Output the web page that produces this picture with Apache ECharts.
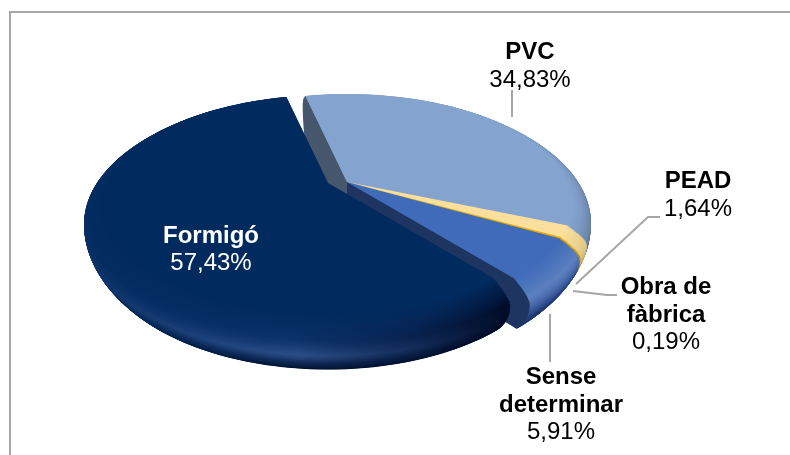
<!DOCTYPE html>
<html>
<head>
<meta charset="utf-8">
<style>
    html, body { margin: 0; padding: 0; background: #fff; }
    #myChart { width: 790px; height: 455px; }
</style>
<script src="https://cdn.jsdelivr.net/npm/echarts@6/dist/echarts.min.js"></script>
</head>
<body>
<div id="myChart"></div>
<script>
    // clockwise from the PVC slice
    const categories = ['PVC', 'PEAD', 'Obra de fàbrica', 'Sense determinar', 'Formigó'];
    const shares = [34.83, 1.64, 0.19, 5.91, 57.43];

    const startAngle = -13;
    const total = shares.reduce((a, b) => a + b, 0);

    // fake perspective: far half of the pie is flatter than the near half
    const view = { cx: 347, cy: 182, rx: 220.6, ry: 105.6, k: 0.2, depth: 41.5, layers: 50 };

    // colour down the rounded edge, t=0 top face, t=1 bottom
    const shading = [
        { top: '#84a4cf', edge: [[0, '#84a4cf'], [0.12, '#7c9ac4'], [0.3, '#6a82a6'], [0.6, '#4e5e78'], [1, '#3c4a60']], wall: '#46566c', wallDeep: 1.35 },
        { top: '#fbdf9c', edge: [[0, '#fbdf9c'], [0.35, '#dcc384'], [0.7, '#9a8c58'], [1, '#6a6040']] },
        { top: '#e9a900', edge: [[0, '#e9a900'], [1, '#8a6a10']] },
        { top: '#3f6bb8', edge: [[0, '#3f6bb8'], [0.25, '#5c80c0'], [0.5, '#3a5a9c'], [0.72, '#1f3a72'], [1, '#1c3466']], wall: '#1d3560', wallDeep: 1 },
        { top: '#012a5e', edge: [[0, '#012a5e'], [0.25, '#0b3169'], [0.55, '#2c4f88'], [0.75, '#0e2a58'], [1, '#00102c']], fade: true, shift: [-19, 1] }
    ];

    function hex2rgb(c) {
        return [1, 3, 5].map(i => parseInt(c.substr(i, 2), 16));
    }
    function mix(c1, c2, f) {
        let a = hex2rgb(c1), b = hex2rgb(c2);
        return 'rgb(' + a.map((v, i) => Math.round(v + (b[i] - v) * f)).join(',') + ')';
    }
    function rgb2hex(c) {
        return '#' + c.match(/\d+/g).map(v => (+v).toString(16).padStart(2, '0')).join('');
    }
    function rampColor(stops, t) {
        for (let i = 1; i < stops.length; i++) {
            if (t <= stops[i][0]) {
                let f = (t - stops[i - 1][0]) / (stops[i][0] - stops[i - 1][0]);
                return mix(stops[i - 1][1], stops[i][1], f);
            }
        }
        return mix(stops[stops.length - 1][1], stops[stops.length - 1][1], 0);
    }

    function edgeScale(t) {
        if (t < 0.35) return 1 + 0.08 * Math.sin(t / 0.35 * Math.PI / 2);
        return 1.08 - 0.065 * Math.pow((t - 0.35) / 0.65, 2);
    }
    function project(deg, s, z, shift) {
        let a = deg * Math.PI / 180;
        let X = s * Math.sin(a), Y = -s * Math.cos(a);
        let w = 1 - view.k * Y;
        return [
            view.cx + shift[0] + view.rx * X / w,
            view.cy + shift[1] + view.ry * Y / w + z * view.depth / w
        ];
    }
    function sectorPoints(a0, a1, s, z, shift) {
        let pts = [project(0, 0, z, shift)];
        let n = Math.max(2, Math.ceil((a1 - a0) / 1.5));
        for (let i = 0; i <= n; i++) {
            pts.push(project(a0 + (a1 - a0) * i / n, s, z, shift));
        }
        return pts;
    }
    function wallPoints(a, shift, deep) {
        let pts = [project(0, 0, 0, shift)];
        for (let i = 0; i <= 20; i++) {
            let t = i / 20;
            pts.push(project(a, edgeScale(t), t * deep, shift));
        }
        pts.push(project(0, 0, deep, shift));
        return pts;
    }

    function renderSlice(params) {
        let i = params.dataIndex;
        let before = shares.slice(0, i).reduce((a, b) => a + b, 0);
        let a0 = startAngle + before / total * 360;
        let a1 = a0 + shares[i] / total * 360;
        let look = shading[i];
        let shift = look.shift || [0, 0];
        let children = [];
        for (let l = view.layers; l > 0; l--) {
            let t = l / view.layers;
            let fill = rampColor(look.edge, t);
            if (look.fade) {
                // highlight only reads along the front, it dies off to both sides
                let main = rgb2hex(fill);
                let f = Math.min(1, t / 0.3);
                fill = new echarts.graphic.LinearGradient(0, 0, 1, 0, [
                    { offset: 0, color: mix(main, look.top, 0.75) },
                    { offset: 0.2, color: mix(main, look.top, 0.45) },
                    { offset: 0.5, color: main },
                    { offset: 0.78, color: mix(main, '#001030', 0.55 * f) },
                    { offset: 1, color: mix(look.top, '#000c28', f) }
                ]);
            }
            children.push({
                type: 'polygon',
                shape: { points: sectorPoints(a0, a1, edgeScale(t), t, shift) },
                style: { fill: fill, stroke: null }
            });
        }
        if (look.wall) {
            children.push({
                type: 'polygon',
                shape: { points: wallPoints(i === 0 ? a0 : a1, shift, look.wallDeep) },
                style: { fill: look.wall }
            });
        }
        children.push({
            type: 'polygon',
            shape: { points: sectorPoints(a0, a1, 1, 0, shift) },
            style: { fill: look.top }
        });
        return { type: 'group', children: children };
    }

    function percentText(v) {
        return v.toFixed(2).replace('.', ',') + '%';
    }
    function textLine(text, x, y, bold, color) {
        return {
            type: 'text', x: x, y: y, silent: true, z: 10,
            style: {
                text: text,
                fill: color || '#000',
                align: 'center',
                verticalAlign: 'middle',
                font: (bold ? 'bold ' : '') + '24px "Liberation Sans", Arial, sans-serif'
            }
        };
    }
    function leader(points) {
        return {
            type: 'polyline', silent: true, z: 5,
            shape: { points: points },
            style: { stroke: '#a6a6a6', lineWidth: 2, fill: null }
        };
    }

    let myChart = echarts.init(document.getElementById('myChart'));
    myChart.setOption({
        animation: false,
        series: [{
            type: 'custom',
            coordinateSystem: 'none',
            silent: true,
            renderItem: renderSlice,
            data: shares
        }],
        graphic: [
            leader([[10, 455], [10, 12], [790, 12]]),
            leader([[512, 90], [512, 117]]),
            leader([[660, 217], [648, 217], [576, 284]]),
            leader([[617, 295], [607, 295], [573, 291]]),
            leader([[550, 314], [550, 362]]),
            textLine(categories[0], 530, 52, true),
            textLine(percentText(shares[0]), 530, 80),
            textLine(categories[1], 698, 181, true),
            textLine(percentText(shares[1]), 698, 209),
            textLine('Obra de', 666, 287, true),
            textLine('fàbrica', 666, 315, true),
            textLine(percentText(shares[2]), 666, 342),
            textLine('Sense', 561, 377, true),
            textLine('determinar', 561, 405, true),
            textLine(percentText(shares[3]), 561, 432),
            textLine(categories[4], 211, 236, true, '#fff'),
            textLine(percentText(shares[4]), 211, 263, false, '#fff')
        ]
    });
</script>
</body>
</html>
